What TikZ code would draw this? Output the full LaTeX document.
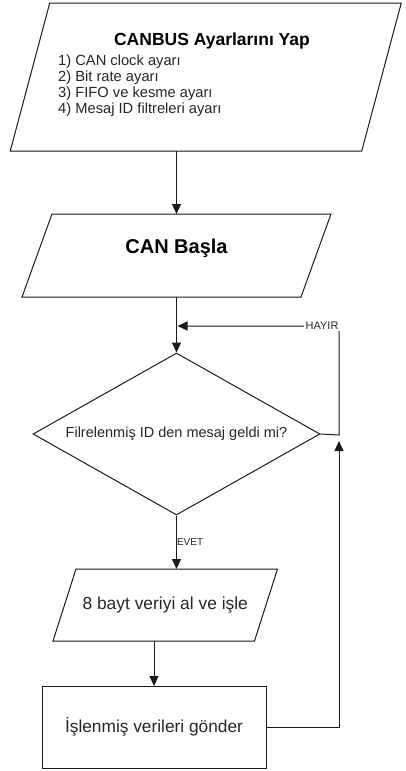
\documentclass[tikz,border=0pt]{standalone}
\usepackage{fontspec}
\setmainfont{Liberation Sans}
\usetikzlibrary{arrows.meta,shapes.geometric}
\definecolor{ink}{HTML}{1A1A1A}
\definecolor{txt}{HTML}{262626}
\newcommand\drawpara[2]{\draw[line] ([xshift=#2pt]#1.north west) -- ([xshift=#2pt]#1.north east) -- ([xshift=-#2pt]#1.south east) -- ([xshift=-#2pt]#1.south west) -- cycle;}
\begin{document}
\begin{tikzpicture}[x=1pt,y=-1pt,
  line/.style={draw=ink, line width=1pt},
  arr/.style={line, -{Triangle[length=10pt,width=9pt]}},
  shapebox/.style 2 args={draw=none, inner sep=0pt, outer sep=0pt, minimum width=#1pt, minimum height=#2pt, text=txt, align=center},
  title/.style={font=\bfseries\fontsize{17.5}{20}\selectfont, text=black, inner sep=0pt},
  listtxt/.style={font=\fontsize{14.7}{16}\selectfont, text=txt, inner sep=0pt, anchor=base west},
  small/.style={text=txt, inner sep=1.5pt}
]
\useasboundingbox (0,0) rectangle (406,771);

% top parallelogram
\node[shapebox={351.5}{148}] (b1) at (205.75,77) {};
\drawpara{b1}{19.75}
\node[title, anchor=base] (b1t) at (212,45) {CANBUS Ayarlarını Yap};
\node[listtxt] (l1) at (58,65) {1) CAN clock ayarı};
\node[listtxt] (l2) at (58,81) {2) Bit rate ayarı};
\node[listtxt] (l3) at (58,97) {3) FIFO ve kesme ayarı};
\node[listtxt] (l4) at (58,113) {4) Mesaj ID filtreleri ayarı};

% CAN Basla
\node[shapebox={279}{83}] (b2) at (176.5,255.5) {};
\drawpara{b2}{15}
\node[font=\bfseries\fontsize{20}{24}\selectfont, text=black, inner sep=0pt, anchor=base] (b2t) at (176.5,253) {CAN Başla};

% decision
\node[diamond, line, aspect=1.77, minimum width=287pt, minimum height=162pt, inner sep=0pt, text=txt,
      font=\fontsize{14.5}{17}\selectfont] (d) at (176.5,434) {Filrelenmiş ID den mesaj geldi mi?};

% 8 bayt
\node[shapebox={201.5}{72}, font=\fontsize{17.4}{20}\selectfont] (b3) at (165.25,605) {8 bayt veriyi al ve işle};
\drawpara{b3}{11.5}

% rect
\node[shapebox={224}{82}, line, font=\fontsize{17.3}{20}\selectfont] (r) at (154,727) {İşlenmiş verileri gönder};

% coordinates for loops
\coordinate (jR) at (339,435);
\coordinate (jT) at (339,326);
\coordinate (m) at (177.5,326);
\coordinate (jA) at (339,441);

% connectors
\draw[arr] (b1.south -| b2.north) -- (b2.north);
\draw[arr] (b2.south -| d.north) -- (d.north);
\draw[arr] (d.south) -- node[small, anchor=west, pos=0.5, inner sep=0pt, font=\fontsize{10}{12}\selectfont] (evet) {EVET} (d.south |- b3.north);
\draw[arr] (b3.south -| r.north) -- (r.north);
\draw[arr] (d.east) -- (jR) -- (jT) -- node[small, pos=0.105, fill=white, font=\fontsize{11}{13}\selectfont] (hayir) {HAYIR} (m);
\draw[arr] (r.east) -| (jA);
\end{tikzpicture}
\end{document}
